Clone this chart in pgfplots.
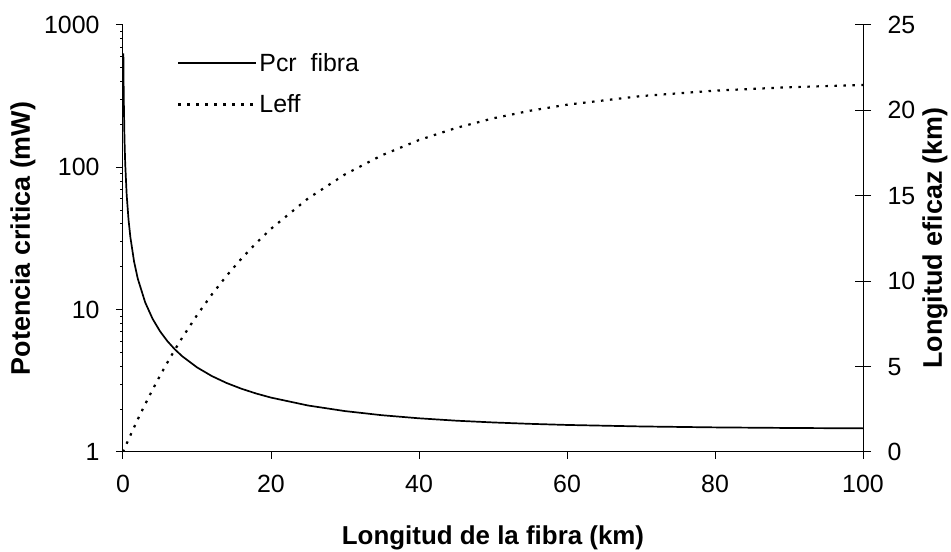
\documentclass[border=0pt]{standalone}
\usepackage{pgfplots}
\pgfplotsset{compat=1.18}
\usepackage{fontspec}
\setmainfont{Liberation Sans}

\pgfplotstableread{
L Pcr
0.05 630.6
0.1 315.8
0.2 158.2
0.3 105.7
0.5 63.73
0.75 42.73
1 32.23
1.5 21.73
2 16.49
3 11.24
4 8.623
5 7.053
6 6.009
7 5.265
8 4.708
10 3.932
12 3.417
14 3.053
16 2.783
18 2.575
20 2.411
25 2.122
30 1.938
35 1.813
40 1.725
45 1.660
50 1.613
55 1.577
60 1.549
70 1.512
80 1.489
90 1.475
100 1.466
}\pcrtable

\pgfplotstableread{
L Leff
0 0
0.05 0.050
0.1 0.0998
0.2 0.199
0.3 0.298
0.5 0.494
0.75 0.737
1 0.977
1.5 1.449
2 1.911
3 2.802
4 3.653
5 4.466
6 5.242
7 5.983
8 6.691
10 8.012
12 9.218
14 10.317
16 11.319
18 12.233
20 13.067
25 14.843
30 16.254
35 17.375
40 18.264
45 18.971
50 19.533
55 19.979
60 20.333
70 20.838
80 21.156
90 21.357
100 21.484
}\lefftable

\begin{document}
\begin{tikzpicture}[x=1bp,y=1bp]
\path[use as bounding box] (-123,-100) rectangle (828,452);
\pgfplotsset{
  common/.style={
    at={(0,0)}, anchor=south west,
    scale only axis, width=740bp, height=427bp,
    xmin=0, xmax=100,
    axis line style={-, line width=1bp},
    every outer x axis line/.append style={-},
    every outer y axis line/.append style={-},
    tick style={line width=1bp, black},
    ticklabel style={font=\fontsize{25}{29}\selectfont},
    /pgf/number format/assume math mode=true,
    minor tick num=0,
  }
}
\begin{axis}[common,
  axis x line*=bottom, axis y line*=left,
  ymode=log, ymin=1, ymax=1000,
  ytick={1,10,100,1000}, yticklabels={1,10,100,1000},
  xtick={0,20,40,60,80,100},
  tick align=outside, major tick length=7bp,
  yticklabel style={xshift=-13bp},
  xticklabel style={yshift=-13bp},
]
\addplot[black, line width=1.7bp, no marks] table[x=L,y=Pcr]{\pcrtable};
\end{axis}
\begin{axis}[common,
  axis x line=none, axis y line*=right,
  ymin=0, ymax=25,
  ytick={0,5,10,15,20,25},
  tick align=center, major tick length=16bp,
  yticklabel style={xshift=13bp},
  legend style={draw=none, fill=none, at={(axis description cs:0.073,0.939)}, anchor=north west,
    font=\fontsize{25}{29}\selectfont, row sep=18bp, inner sep=0pt},
  legend cell align=left,
  legend image code/.code={\draw[#1] (0bp,0bp) -- (78bp,0bp);},
]
\addlegendimage{black, line width=1.7bp}
\addlegendentry{Pcr\ \ fibra}
\addplot[black, line width=2.2bp, dash pattern=on 2.5bp off 6.5bp, no marks] table[x=L,y=Leff]{\lefftable};
\addlegendentry{Leff}
\end{axis}
\node[rotate=90, font=\bfseries\fontsize{27}{31}\selectfont] at (-100,213.5) {Potencia critica (mW)};
\node[rotate=90, font=\bfseries\fontsize{27}{31}\selectfont] at (812,214) {Longitud eficaz (km)};
\node[font=\bfseries\fontsize{26}{30}\selectfont] at (370,-86) {Longitud de la fibra (km)};
\end{tikzpicture}
\end{document}
